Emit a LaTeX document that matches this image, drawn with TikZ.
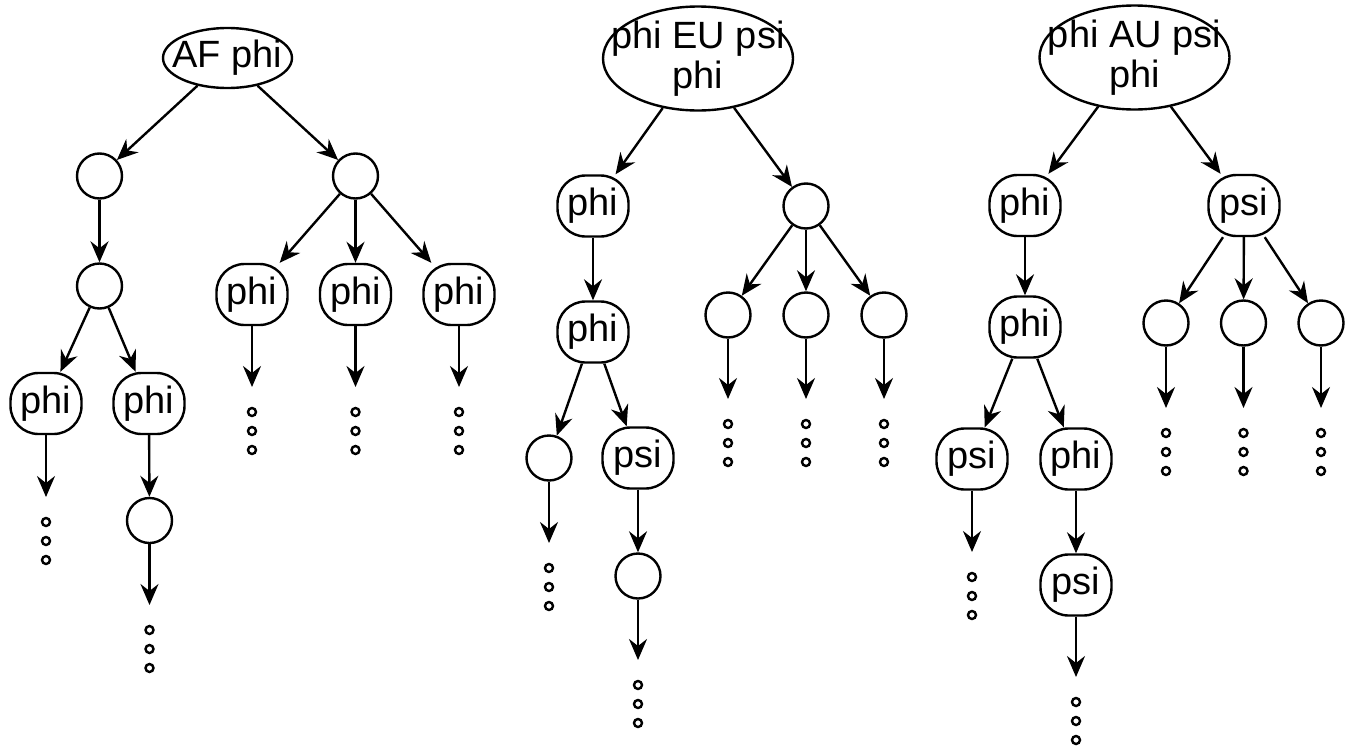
\documentclass[tikz,border=0pt]{standalone}
\usepackage{fontspec}
\setmainfont{Liberation Sans}
\usetikzlibrary{arrows.meta,shapes.geometric}
% three small circles below the end of an open branch
\newcommand\taildots[1]{\foreach \d in {25,44,63} \draw[line width=1.2pt] (#1) ++(0,\d) circle[radius=2pt];}
\begin{document}
\begin{tikzpicture}[x=0.5pt,y=-0.5pt,
  font=\fontsize{19}{20}\selectfont,
  every node/.style={line width=1.2pt},
  box/.style={draw, rectangle, rounded corners=14pt, minimum width=35.5pt, minimum height=30.5pt, inner sep=0pt},
  blank/.style={draw, circle, minimum size=22.5pt, inner sep=0pt},
  rootsmall/.style={draw, ellipse, minimum width=64.5pt, minimum height=30pt, inner sep=0pt},
  rootbig/.style={draw, ellipse, minimum width=95pt, minimum height=52pt, inner sep=0pt},
  arr/.style={line width=1.2pt, -{Stealth[length=10.5pt,width=9pt,inset=3.5pt]}}
]
\useasboundingbox (0,0) rectangle (1345,750);

% ---------- AF phi ----------
\node[rootsmall, label={center:AF phi}] (r1) at (227.5,58) {};
\node[blank] (r1a) at (99.5,176) {};
\node[blank] (r1b) at (355.5,176) {};
\node[blank] (r1c) at (99.5,286) {};
\node[box] (r1d) at (46,403.5) {phi};
\node[box] (r1e) at (149,403.5) {phi};
\node[blank] (r1f) at (149.5,520.5) {};
\node[box] (r1g) at (252,294.5) {phi};
\node[box] (r1h) at (355.5,294.5) {phi};
\node[box] (r1i) at (459,294.5) {phi};
\coordinate (t1d) at (46,497);
\coordinate (t1f) at (149.5,605);
\coordinate (t1g) at (252,387);
\coordinate (t1h) at (355.5,387);
\coordinate (t1i) at (459,387);

\draw[arr] (r1) -- (r1a);
\draw[arr] (r1) -- (r1b);
\draw[arr] (r1a) -- (r1c);
\draw[arr] (r1c) -- (r1d);
\draw[arr] (r1c) -- (r1e);
\draw[arr] (r1e) -- (r1f);
\draw[arr] (r1b) -- (r1g);
\draw[arr] (r1b) -- (r1h);
\draw[arr] (r1b) -- (r1i);
\foreach \n in {d,f,g,h,i} {\draw[arr] (r1\n) -- (t1\n); \taildots{t1\n}}

% ---------- phi EU psi ----------
\node[rootbig, label={[align=center]center:{phi EU psi\\phi}}] (r2) at (698,58.5) {};
\node[box] (r2a) at (593,206) {phi};
\node[blank] (r2b) at (806,206) {};
\node[box] (r2c) at (593,332) {phi};
\node[blank] (r2d) at (549,458) {};
\node[box] (r2e) at (638,458) {psi};
\node[blank] (r2f) at (638,576) {};
\node[blank] (r2g) at (728,315) {};
\node[blank] (r2h) at (806,315) {};
\node[blank] (r2i) at (884,315) {};
\coordinate (t2d) at (549,543);
\coordinate (t2f) at (638,660);
\coordinate (t2g) at (728,399);
\coordinate (t2h) at (806,399);
\coordinate (t2i) at (884,399);

\draw[arr] (r2) -- (r2a);
\draw[arr] (r2) -- (r2b);
\draw[arr] (r2a) -- (r2c);
\draw[arr] (r2c) -- (r2d);
\draw[arr] (r2c) -- (r2e);
\draw[arr] (r2e) -- (r2f);
\draw[arr] (r2b) -- (r2g);
\draw[arr] (r2b) -- (r2h);
\draw[arr] (r2b) -- (r2i);
\foreach \n in {d,f,g,h,i} {\draw[arr] (r2\n) -- (t2\n); \taildots{t2\n}}

% ---------- phi AU psi ----------
\node[rootbig, label={[align=center]center:{phi AU psi\\phi}}] (r3) at (1134.5,57.5) {};
\node[box] (r3a) at (1025,205.5) {phi};
\node[box] (r3b) at (1244,205.5) {psi};
\node[box] (r3c) at (1025,327) {phi};
\node[box] (r3d) at (972,459) {psi};
\node[box] (r3e) at (1076,459) {phi};
\node[box] (r3f) at (1076,585) {psi};
\node[blank] (r3g) at (1166,323) {};
\node[blank] (r3h) at (1243.5,323) {};
\node[blank] (r3i) at (1321,323) {};
\coordinate (t3d) at (972,552);
\coordinate (t3f) at (1076,677);
\coordinate (t3g) at (1166,408);
\coordinate (t3h) at (1243.5,408);
\coordinate (t3i) at (1321,408);

\draw[arr] (r3) -- (r3a);
\draw[arr] (r3) -- (r3b);
\draw[arr] (r3a) -- (r3c);
\draw[arr] (r3c) -- (r3d);
\draw[arr] (r3c) -- (r3e);
\draw[arr] (r3e) -- (r3f);
\draw[arr] (r3b) -- (r3g);
\draw[arr] (r3b) -- (r3h);
\draw[arr] (r3b) -- (r3i);
\foreach \n in {d,f,g,h,i} {\draw[arr] (r3\n) -- (t3\n); \taildots{t3\n}}
\end{tikzpicture}
\end{document}
